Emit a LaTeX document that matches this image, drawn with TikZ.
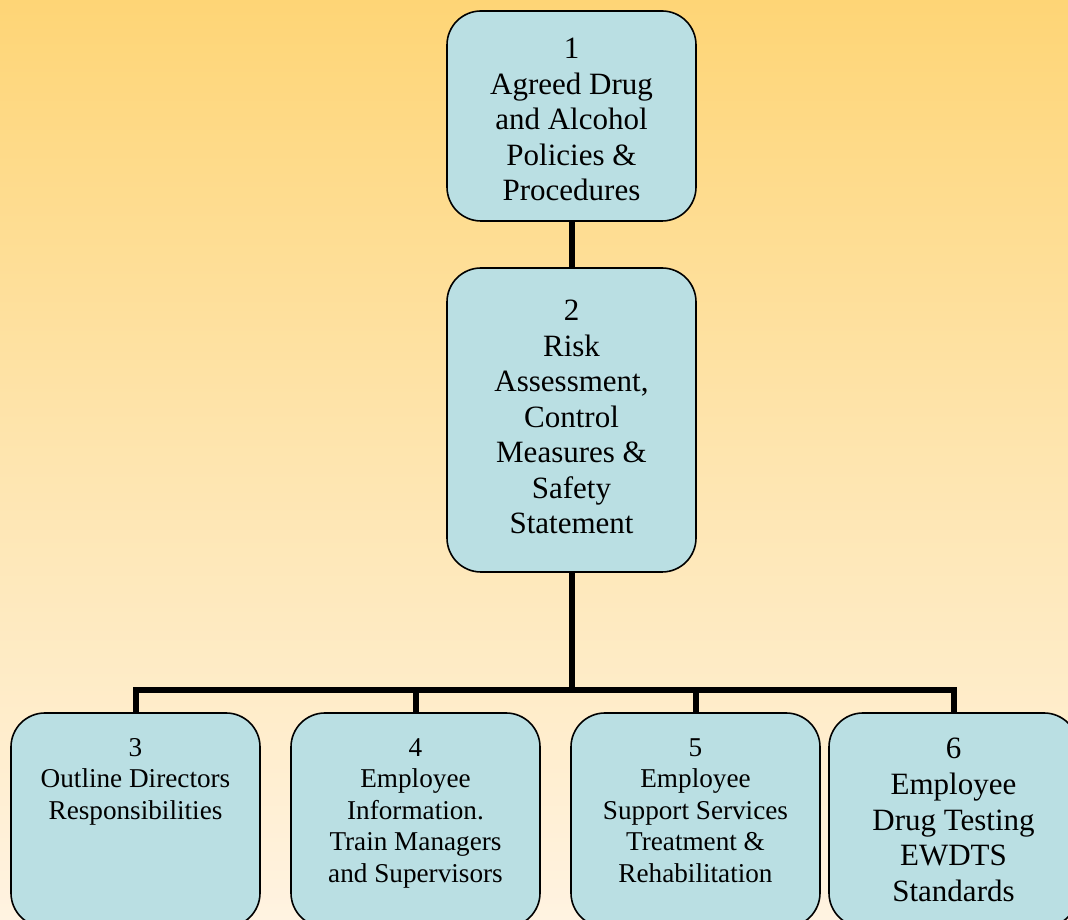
\documentclass[tikz,border=0pt]{standalone}
\usepackage{fontspec}
\setmainfont{Liberation Serif}
\newfontfamily\boxfont{Liberation Serif}
\definecolor{bgtop}{RGB}{255,204,51}
\definecolor{bgq}{RGB}{254,213,118}
\definecolor{bgmid}{RGB}{254,229,175}
\definecolor{bglow}{RGB}{255,243,225}
\definecolor{bgbot}{RGB}{255,252,247}
\definecolor{boxfill}{RGB}{186,223,227}
\pgfdeclareverticalshading{bgshade}{100bp}{color(0bp)=(bgbot); color(25bp)=(bglow); color(50bp)=(bgmid); color(75bp)=(bgq); color(100bp)=(bgtop)}
\tikzset{
  stepbox/.style={draw=black, line width=1.6pt, fill=boxfill, rounded corners=34pt, inner sep=0pt, outer sep=0pt, font=\boxfont},
  conn/.style={draw=black, line width=6pt, line join=miter}
}
\newcommand{\bigtxt}{\boxfont\fontsize{31pt}{35.6pt}\selectfont}
\newcommand{\bigtxtb}{\boxfont\fontsize{31pt}{35.5pt}\selectfont}
\newcommand{\smalltxt}{\boxfont\fontsize{27.2pt}{31.5pt}\selectfont}
\begin{document}
\begin{tikzpicture}[x=1pt,y=1pt]
\useasboundingbox (0,0) rectangle (1068,920);
\clip (0,0) rectangle (1068,920);
\fill[shading=bgshade] (0,0) rectangle (1068,920);

\node[stepbox] (b1) at (571.5,804) {\parbox[c][210pt][t]{249pt}{\bigtxt\centering\rule{0pt}{47.5pt}1\\Agreed Drug\\and Alcohol\\Policies \&\\Procedures}};
\node[stepbox] (b2) at (571.5,500) {\parbox[c][304pt][t]{249pt}{\bigtxtb\centering\rule{0pt}{53pt}2\\Risk\\Assessment,\\Control\\Measures \&\\Safety\\Statement}};
\node[stepbox] (b3) at (135.5,100) {\parbox[c][214pt][t]{249pt}{\smalltxt\centering\rule{0pt}{43.5pt}3\\Outline Directors\\Responsibilities}};
\node[stepbox] (b4) at (415.5,100) {\parbox[c][214pt][t]{249pt}{\smalltxt\centering\rule{0pt}{43.5pt}4\\Employee\\Information.\\Train Managers\\and Supervisors}};
\node[stepbox] (b5) at (695.5,100) {\parbox[c][214pt][t]{249pt}{\smalltxt\centering\rule{0pt}{43.5pt}5\\Employee\\Support Services\\Treatment \&\\Rehabilitation}};
\node[stepbox] (b6) at (953.5,100) {\parbox[c][214pt][t]{249pt}{\bigtxt\centering\rule{0pt}{46pt}6\\Employee\\Drug Testing\\EWDTS\\Standards}};

\coordinate (hub) at (571.5,230);
\draw[conn] (b1.south) -- (b2.north);
\draw[conn] (b2.south) -- (hub);
\draw[conn] (hub) -| (b3.north);
\draw[conn] (hub) -| (b4.north);
\draw[conn] (hub) -| (b5.north);
\draw[conn] (hub) -| (b6.north);
\end{tikzpicture}
\end{document}
